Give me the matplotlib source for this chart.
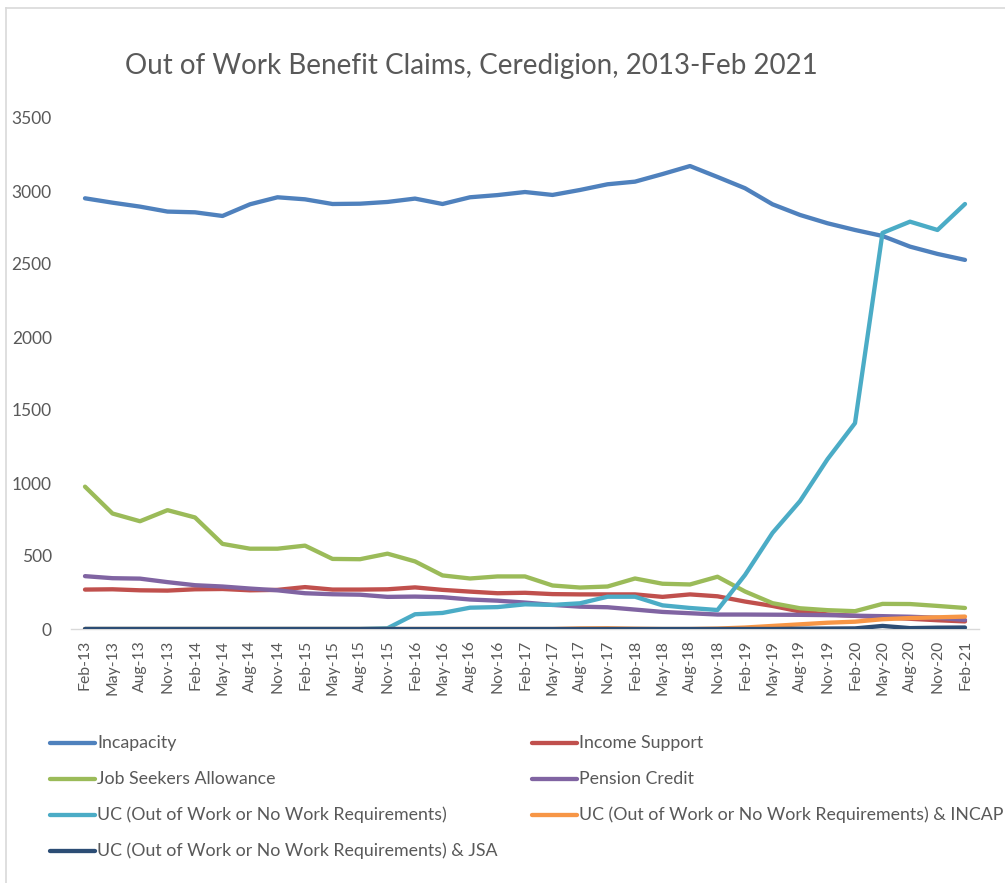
import matplotlib
matplotlib.use("Agg")
import matplotlib.pyplot as plt
from matplotlib.lines import Line2D

plt.rcParams['font.family'] = ['Lato', 'DejaVu Sans']

quarters = ['Feb-13', 'May-13', 'Aug-13', 'Nov-13', 'Feb-14', 'May-14', 'Aug-14', 'Nov-14',
            'Feb-15', 'May-15', 'Aug-15', 'Nov-15', 'Feb-16', 'May-16', 'Aug-16', 'Nov-16',
            'Feb-17', 'May-17', 'Aug-17', 'Nov-17', 'Feb-18', 'May-18', 'Aug-18', 'Nov-18',
            'Feb-19', 'May-19', 'Aug-19', 'Nov-19', 'Feb-20', 'May-20', 'Aug-20', 'Nov-20',
            'Feb-21']

incapacity = [2950, 2920, 2893, 2859, 2854, 2829, 2909, 2957, 2943, 2911, 2913, 2925,
              2948, 2911, 2957, 2972, 2993, 2973, 3007, 3046, 3064, 3116, 3171, 3096,
              3019, 2909, 2836, 2779, 2733, 2692, 2619, 2569, 2528]
income_support = [270, 272, 265, 263, 272, 274, 265, 268, 287, 270, 270, 272,
                  285, 268, 256, 245, 248, 239, 237, 237, 237, 220, 237, 224,
                  188, 158, 120, 100, 90, 80, 70, 60, 52]
jsa = [975, 791, 738, 814, 764, 583, 550, 550, 571, 480, 478, 516,
       463, 367, 346, 360, 360, 298, 284, 291, 346, 310, 305, 358,
       257, 177, 142, 129, 122, 172, 171, 158, 144]
pension_credit = [362, 348, 345, 321, 300, 291, 277, 265, 245, 238, 235, 220,
                  222, 218, 202, 194, 181, 165, 153, 149, 133, 117, 108, 99,
                  99, 98, 97, 95, 91, 88, 84, 77, 62]
uc = [0, 0, 0, 0, 0, 0, 0, 0, 0, 0, 0, 5,
      101, 110, 146, 150, 169, 165, 176, 221, 221, 162, 144, 130,
      370, 658, 876, 1163, 1410, 2713, 2790, 2733, 2911]
uc_incap = [0, 0, 0, 0, 0, 0, 0, 0, 0, 0, 0, 0,
            0, 0, 0, 0, 0, 0, 4, 5, 2, 0, 0, 3,
            10, 21, 32, 43, 50, 67, 75, 80, 85]
uc_jsa = [0, 0, 0, 0, 0, 0, 0, 0, 0, 0, 0, 0,
          0, 0, 0, 0, 0, 0, 0, 0, 0, 0, 0, 0,
          0, 0, 2, 3, 4, 21, 6, 9, 10]

series = [
    ('Incapacity', incapacity, '#4F81BD'),
    ('Income Support', income_support, '#C0504D'),
    ('Job Seekers Allowance', jsa, '#9BBB59'),
    ('Pension Credit', pension_credit, '#8064A2'),
    ('UC (Out of Work or No Work Requirements)', uc, '#4BACC6'),
    ('UC (Out of Work or No Work Requirements) & INCAP', uc_incap, '#F79646'),
    ('UC (Out of Work or No Work Requirements) & JSA', uc_jsa, '#2C4D75'),
]

W, H = 1005, 883
fig = plt.figure(figsize=(W / 100, H / 100), dpi=100)
ax = fig.add_axes([71.25 / W, 254 / H, 907.5 / W, 511 / H])

x = list(range(len(quarters)))
for name, vals, col in series:
    ax.plot(x, vals, color=col, lw=3.1, solid_capstyle='round', solid_joinstyle='round')

ax.set_xlim(-0.5, len(quarters) - 0.5)
ax.set_ylim(0, 3500)
ax.set_yticks(range(0, 3501, 500))
ax.set_xticks(x)
ax.set_xticklabels(quarters, rotation=90)
ax.tick_params(axis='y', length=0, pad=14, labelsize=12.5, labelcolor='#595959')
ax.tick_params(axis='x', length=0, pad=8, labelsize=11.3, labelcolor='#595959')
for s in ['top', 'right', 'left']:
    ax.spines[s].set_visible(False)
ax.spines['bottom'].set_color('#D9D9D9')
ax.spines['bottom'].set_linewidth(1.0)
ax.spines['bottom'].set_zorder(0)

fig.text(471 / W, 1 - 66 / H, 'Out of Work Benefit Claims, Ceredigion, 2013-Feb 2021',
         ha='center', va='center', fontsize=20, color='#595959')

# legend: two columns, four rows
rows_y = [743, 779, 815, 851]
cols_x = [50, 532]
order = [(0, 0), (0, 1), (1, 0), (1, 1), (2, 0), (2, 1), (3, 0)]
for (r, c), (name, vals, col) in zip(order, series):
    yy = 1 - rows_y[r] / H
    x0 = cols_x[c]
    fig.add_artist(Line2D([x0 / W, (x0 + 45) / W], [yy, yy], color=col, lw=3.1,
                          solid_capstyle='round', transform=fig.transFigure))
    fig.text((x0 + 47) / W, yy, name, ha='left', va='center', fontsize=12.8, color='#595959')

# chart area border
fig.add_artist(Line2D([6 / W, 1], [1 - 8 / H, 1 - 8 / H], color='#D9D9D9', lw=1.2,
                      transform=fig.transFigure))
fig.add_artist(Line2D([6 / W, 6 / W], [0, 1 - 8 / H], color='#D9D9D9', lw=1.2,
                      transform=fig.transFigure))

fig.savefig('out.png', dpi=100)
